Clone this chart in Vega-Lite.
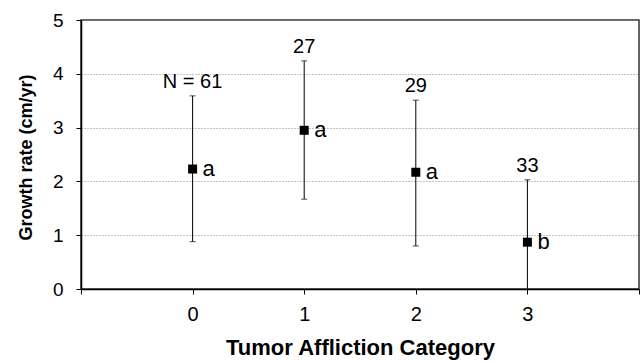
{
  "$schema": "https://vega.github.io/schema/vega-lite/v6.json",
  "width": 558,
  "height": 269,
  "autosize": {"type": "none"},
  "padding": {"left": 81, "top": 20, "right": 2, "bottom": 73},
  "background": "white",
  "config": {
    "view": {"stroke": "#333", "strokeWidth": 1.5},
    "font": "Liberation Sans"
  },
  "data": {
    "values": [
      {"cat": 0, "mean": 2.23, "lo": 0.88, "hi": 3.59, "n": "N = 61", "grp": "a"},
      {"cat": 1, "mean": 2.95, "lo": 1.67, "hi": 4.24, "n": "27", "grp": "a"},
      {"cat": 2, "mean": 2.17, "lo": 0.80, "hi": 3.51, "n": "29", "grp": "a"},
      {"cat": 3, "mean": 0.87, "lo": 0.0, "hi": 2.03, "n": "33", "grp": "b"}
    ]
  },
  "encoding": {
    "x": {
      "field": "cat", "type": "quantitative",
      "scale": {"domain": [-1, 4], "nice": false, "zero": false},
      "axis": {
        "title": "Tumor Affliction Category",
        "titleFont": "Liberation Sans", "titleFontSize": 22, "titleFontWeight": "bold", "titleColor": "black",
        "titlePadding": 13,
        "values": [-1, 0, 1, 2, 3, 4],
        "labelExpr": "datum.value < 0 || datum.value > 3 ? '' : datum.label",
        "labelFontSize": 20, "labelColor": "black", "labelPadding": 10,
        "grid": false, "domainColor": "black", "domainWidth": 1.5,
        "tickColor": "black", "tickSize": 5
      }
    }
  },
  "layer": [
    {
      "mark": {"type": "rule", "color": "black", "strokeWidth": 1},
      "encoding": {
        "y": {
          "field": "lo", "type": "quantitative",
          "scale": {"domain": [0, 5], "nice": false},
          "axis": {
            "title": "Growth rate (cm/yr)",
            "titleFont": "Liberation Sans", "titleFontSize": 18, "titleFontWeight": "bold", "titleColor": "black",
            "titlePadding": 17, "titleY": 137, "titleAlign": "center",
            "values": [0, 1, 2, 3, 4, 5],
            "labelFontSize": 19, "labelColor": "black", "labelPadding": 13,
            "grid": true, "gridColor": "#888", "gridDash": [1, 2], "gridWidth": 1,
            "domainColor": "black", "domainWidth": 1.5,
            "tickColor": "black", "tickSize": 5
          }
        },
        "y2": {"field": "hi"}
      }
    },
    {
      "mark": {"type": "tick", "color": "black", "orient": "horizontal", "size": 6, "thickness": 1},
      "encoding": {"y": {"field": "hi", "type": "quantitative"}}
    },
    {
      "transform": [{"filter": "datum.lo > 0"}],
      "mark": {"type": "tick", "color": "black", "orient": "horizontal", "size": 6, "thickness": 1},
      "encoding": {"y": {"field": "lo", "type": "quantitative"}}
    },
    {
      "mark": {"type": "square", "color": "black", "filled": true, "opacity": 1, "size": 81},
      "encoding": {"y": {"field": "mean", "type": "quantitative"}}
    },
    {
      "mark": {"type": "text", "align": "left", "baseline": "middle", "dx": 10, "dy": 0, "fontSize": 22, "color": "black"},
      "encoding": {"y": {"field": "mean", "type": "quantitative"}, "text": {"field": "grp"}}
    },
    {
      "mark": {"type": "text", "align": "center", "baseline": "alphabetic", "dy": -8, "fontSize": 20, "color": "black"},
      "encoding": {"y": {"field": "hi", "type": "quantitative"}, "text": {"field": "n"}}
    }
  ]
}
